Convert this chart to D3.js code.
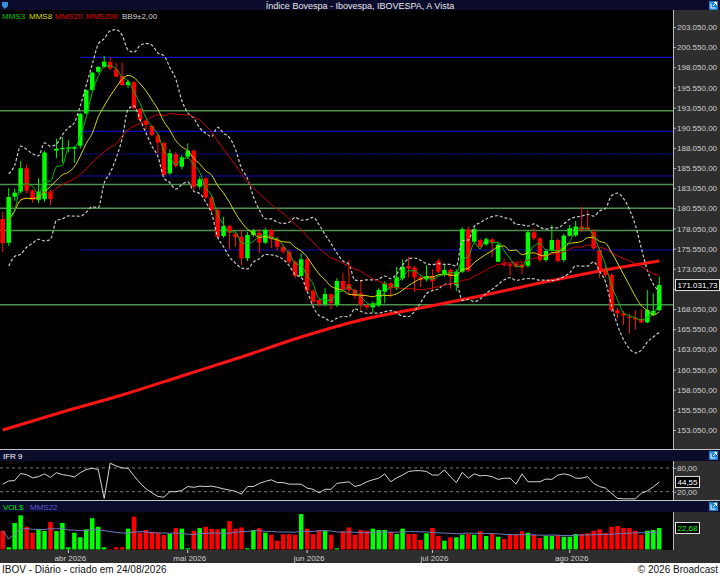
<!DOCTYPE html>
<html>
<head>
<meta charset="utf-8">
<script src="https://cdn.jsdelivr.net/npm/d3@7"></script>
<style>
  body { margin: 0; background: #000; }
  svg { display: block; font-family: "Liberation Sans", Arial, sans-serif; }
</style>
</head>
<body>
<svg id="chart"></svg>
<script>
// ---- data ----
const startDay = "2026-03-17";
const holidays = ["2026-04-03", "2026-04-21", "2026-05-01", "2026-06-04"];

const opens = [
  179230,176270,182000,182630,185530,182750,181600,181690,182630,187700,
  187900,187950,187950,188320,192340,195230,197500,198120,198700,197800,
  196970,195850,196190,192880,191430,190770,189610,188660,184900,187260,
  185720,186960,187700,183230,184280,181920,180340,177120,178360,177370,
  177030,174350,177240,177530,176290,177860,176710,175790,175170,173930,
  172160,174230,170330,169180,168680,169900,168560,171540,171160,170420,
  170000,168560,168270,168520,170210,171250,170630,171870,173400,173190,
  171990,171740,172160,174050,172300,172900,171000,172690,177950,176410,
  176620,176090,176710,173930,173800,173600,173730,173600,173430,177580,
  176830,174140,175390,176620,174140,177160,177200,178300,178200,177650,
  175380,173110,172280,167940,167530,167100,166960,166820,166400,167340,167940
];
const highs = [
  180100,183090,183000,186440,186000,182900,184290,187700,182800,189200,
  189400,189000,188300,192400,195300,197500,198200,199450,199300,198600,
  198620,196500,196300,193000,191600,190900,189800,188800,187880,187580,
  187200,188620,187850,184480,184400,182100,180500,179510,178500,177700,
  177900,177600,178000,178000,178100,178000,177000,176000,175400,174100,
  174970,174400,170500,169400,170630,170000,171900,172570,174140,170600,
  171700,168700,169000,170700,171500,171400,173310,174200,174550,173400,
  172300,173500,173000,174300,173500,173100,173000,178200,178300,178200,
  176800,176900,176800,176300,174300,173800,173900,173800,177800,178080,
  177000,175500,178480,176800,177400,178500,179000,180760,180340,178000,
  175600,173400,172500,168200,167800,167400,167900,168000,170420,170000,172070
];
const lows = [
  175130,175900,181500,182400,182400,181230,181200,181400,180980,186800,
  186200,187500,186200,187950,192200,195000,197300,198000,197700,196800,
  195700,195500,192800,191300,190300,189500,187400,184500,184700,185600,
  185400,186700,182830,182900,181700,180100,176830,176900,175470,175790,
  173520,174000,177000,174970,176100,175590,175300,174900,173600,171870,
  172000,170080,168700,168340,168400,168000,168300,170300,169900,169300,
  167940,168000,167600,168300,168770,169500,170400,171600,172000,170210,
  170800,171500,170200,172500,172100,170600,170300,172500,172600,176200,
  175600,175900,174500,173900,173300,172200,173100,172400,173200,176600,
  173900,173900,175200,173800,173900,177000,177000,177600,177700,175400,
  171900,172000,167700,166900,166080,165000,165500,166300,166300,167200,167800
];
const closes = [
  176250,181970,182500,185530,182750,181600,182630,187470,181690,187950,
  188050,188100,188150,192260,195230,197380,198090,198750,197900,196900,
  195850,196260,192960,191510,190890,189650,188700,184690,187380,185800,
  186880,187700,183230,184150,181920,180340,177030,178360,177530,176960,
  174350,177240,177780,176290,177860,176710,175790,175170,173930,172160,
  174230,170330,168970,168680,169920,168800,171540,170510,170420,169680,
  168600,168270,168770,170420,171250,170630,171990,173310,173110,171990,
  171660,172160,171490,172690,172900,172100,172700,177950,172810,177950,
  175790,176710,176300,176050,173520,173400,173310,173200,177580,176830,
  174140,175260,176620,174020,177160,178080,178300,177900,177900,175590,
  172690,172280,167940,167530,167230,166960,166750,166400,167940,167820,171031.73
];
// financial volume, R$ billions
const volumes = [
  19.8,2.3,28,36,24,17.7,21.3,19.5,29,19.5,
  28,2.3,17.7,12.9,21.3,33,24,2.3,0.5,2.3,
  2.3,22,34.6,17.7,20.5,18.6,17.7,15.3,16.6,22.6,
  22,1.3,19.8,22.6,24,21.8,21.3,22,29.9,22,
  23.3,1.3,20.5,22.6,17.7,15.6,9.3,16.2,16.2,15.6,
  37.4,22,16.2,19.8,19.8,15.6,1.3,19.1,23.3,15.6,
  20.6,19.8,22,20.6,20.6,18.5,16.4,22,16.4,16.4,
  10,17.1,22.7,14.2,9.3,12.9,12.9,15.6,16.4,15.6,
  19.2,14.2,16.4,13.5,11.1,15.6,15.6,19.2,17.7,15.6,
  12.1,14.2,14.2,15,13.5,13.5,16.4,16.4,17.1,19.8,
  21.3,17.7,24,24.8,22.7,22.7,19.8,15.6,19.8,20.6,22.68
];
// IFR 9 (RSI)
const ifr = [
  39,47,48,66,63,55,58,65,56,68,
  63,61,57,68,76,79,76,3,92,85,
  80,79,60,42,27,17,8,6,20,20,
  23,33,31,34,33,34,31,27,24,21,
  14,33,33,41,46,50,43,43,39,39,
  39,29,26,17,26,26,41,43,45,33,
  37,45,50,54,65,45,55,62,71,73,
  73,71,62,62,75,58,43,69,54,65,
  60,61,58,51,54,54,39,65,45,45,
  45,52,51,62,65,62,54,54,58,41,
  33,29,16,3,2,2,2,16,22,32,44.55
];
// MMS200 read at every 10th session
const mms200At = [0,10,20,30,40,50,60,70,80,90,100,110];
const mms200 = [153050,155280,157390,159750,162110,164590,166700,168190,169670,171290,172780,174020];

const greenLevels = [192665, 183509, 180556, 177802, 168596];
const blueLevels = [199290, 190110, 184564, 175383];
const blueDotted = [187293];
const levelStart = 13;

const priceTicks = [153050,155550,158050,160550,163050,165550,168050,170550,173050,175550,
  178050,180550,183050,185550,188050,190550,193050,195550,198050,200550,203050];
const ifrTicks = [20, 80];
const monthNames = ["jan","fev","mar","abr","mai","jun","jul","ago","set","out","nov","dez"];

// ---- trading days ----
const dayKey = d3.timeFormat("%Y-%m-%d");
const dates = [];
for (let d = d3.timeParse("%Y-%m-%d")(startDay); dates.length < closes.length; d = d3.timeDay.offset(d, 1)) {
  const wd = d.getDay();
  if (wd > 0 && wd < 6 && !holidays.includes(dayKey(d))) dates.push(d);
}

// ---- indicators ----
function sma(arr, n) {
  return arr.map((_, i) => d3.mean(arr.slice(Math.max(0, i - n + 1), i + 1)));
}
const mms3 = sma(closes, 3);
const mms8 = sma(closes, 8);
const mms20 = sma(closes, 20);
const mms22v = sma(volumes, 22);
const bbUp = [], bbDn = [];
closes.forEach((_, i) => {
  const w = closes.slice(Math.max(0, i - 8), i + 1);
  const m = d3.mean(w);
  const sd = Math.sqrt(d3.mean(w, v => (v - m) ** 2));
  bbUp.push(m + 2 * sd);
  bbDn.push(m - 2 * sd);
});

// ---- layout ----
const width = 720, height = 575;
const plotRight = 673;
const mainTop = 10, mainBottom = 449;
const ifrTop = 461, ifrBottom = 500;
const volTop = 512, volBottom = 550;

const locale = d3.formatLocale({ decimal: ",", thousands: ".", grouping: [3], currency: ["R$", ""] });
const fmt = locale.format(",.2f");

const svg = d3.select("#chart")
  .attr("width", width)
  .attr("height", height)
  .attr("viewBox", `0 0 ${width} ${height}`);

svg.append("rect").attr("width", width).attr("height", height).attr("fill", "#000");

// right strips
[[mainTop, mainBottom], [ifrTop, ifrBottom], [volTop, volBottom]].forEach(([a, b]) => {
  svg.append("rect").attr("x", plotRight).attr("y", a)
    .attr("width", width - plotRight).attr("height", b - a).attr("fill", "#2e2e2e");
  svg.append("line").attr("x1", plotRight + 0.5).attr("x2", plotRight + 0.5)
    .attr("y1", a).attr("y2", b).attr("stroke", "#b8b8b8");
});

// header bars
[[0, 10], [450, 461], [501, 512]].forEach(([a, b]) => {
  svg.append("rect").attr("x", 0).attr("y", a).attr("width", width).attr("height", b - a).attr("fill", "#0b0b2c");
});
[449.5, 500.5].forEach(yy => {
  svg.append("line").attr("x1", 0).attr("x2", width).attr("y1", yy).attr("y2", yy).attr("stroke", "#c4c4c4");
});

// little window icons
function icon(x0, y0) {
  const g = svg.append("g").attr("transform", `translate(${x0},${y0})`);
  g.append("rect").attr("width", 9).attr("height", 9).attr("fill", "#1a86d8");
  g.append("path").attr("d", "M2,2.5 V7 H6.5 M4,5 L7.5,1.5 M5,1.5 H7.5 V4")
    .attr("fill", "none").attr("stroke", "#fff").attr("stroke-width", 1);
}
icon(709, 1);
icon(709, 451);
icon(709, 502);
svg.append("path").attr("d", "M2,2 L8,2 L8,6 L5,9 L2,6 Z").attr("fill", "#3a8fd8");

svg.append("text").attr("x", 360).attr("y", 8.5).attr("text-anchor", "middle")
  .attr("fill", "#e8e8e8").attr("font-size", 9)
  .text("Índice Bovespa - Ibovespa, IBOVESPA, A Vista");

// legend
const legend = [
  ["MMS3", "#00c800", 2], ["MMS8", "#d8d800", 29], ["MMS20", "#e00000", 55],
  ["MMS200", "#e00000", 86], ["BB9±2,00", "#d4d4d4", 122]
];
legend.forEach(([t, c, x0]) => {
  svg.append("text").attr("x", x0).attr("y", 19).attr("fill", c).attr("font-size", 8).text(t);
});

// scales
const x = d3.scaleBand(dates, [-1, 663]).padding(0.25);
const cx = d => x(d) + x.bandwidth() / 2;
const y = d3.scaleLinear([153050, 203050], [430, 27]);
const yI = d3.scaleLinear([0, 100], [499.6, 460]);
const yV = d3.scaleLinear([0, 40], [549.5, 511.6]);

svg.append("defs").append("clipPath").attr("id", "clipMain")
  .append("rect").attr("x", 0).attr("y", mainTop).attr("width", plotRight).attr("height", mainBottom - mainTop);
const main = svg.append("g").attr("clip-path", "url(#clipMain)");

// horizontal levels
main.append("g").selectAll("line").data(greenLevels).join("line")
  .attr("x1", 0).attr("x2", plotRight)
  .attr("y1", d => y(d)).attr("y2", d => y(d))
  .attr("stroke", "#4f8f4f").attr("stroke-width", 1.6);
main.append("g").selectAll("line").data(blueLevels.concat(blueDotted)).join("line")
  .attr("x1", cx(dates[levelStart])).attr("x2", plotRight)
  .attr("y1", d => y(d)).attr("y2", d => y(d))
  .attr("stroke", "#1010b8").attr("stroke-width", 1.2)
  .attr("stroke-dasharray", d => blueDotted.includes(d) ? "2,1" : null);

// candles
const idx = d3.range(closes.length);
const up = i => closes[i] >= opens[i];
const candle = main.append("g").selectAll("g").data(idx).join("g");
candle.append("line")
  .attr("x1", i => cx(dates[i]) ).attr("x2", i => cx(dates[i]))
  .attr("y1", i => y(highs[i])).attr("y2", i => y(lows[i]))
  .attr("stroke", i => up(i) ? "#00ee00" : "#ff1010").attr("stroke-width", 1);
candle.append("rect")
  .attr("x", i => x(dates[i]))
  .attr("width", x.bandwidth())
  .attr("y", i => y(Math.max(opens[i], closes[i])))
  .attr("height", i => Math.max(1, Math.abs(y(opens[i]) - y(closes[i]))))
  .attr("fill", i => up(i) ? "#00ff00" : "#ff0000");

// MMS200
main.append("path")
  .datum(mms200At)
  .attr("fill", "none").attr("stroke", "#ff1414").attr("stroke-width", 3)
  .attr("d", d3.line().x(i => cx(dates[i])).y((i, k) => y(mms200[k])).curve(d3.curveMonotoneX));

// other averages and bands
const series = [
  [bbUp, "#c8c8c8", "3,2", 1.2],
  [bbDn, "#c8c8c8", "3,2", 1.2],
  [mms20, "#c80000", null, 1],
  [mms8, "#d8d800", null, 1],
  [mms3, "#00c000", null, 1]
];
series.forEach(([vals, color, dash, sw]) => {
  main.append("path")
    .datum(idx.slice(1))
    .attr("fill", "none").attr("stroke", color).attr("stroke-width", sw)
    .attr("stroke-dasharray", dash)
    .attr("d", d3.line().x(i => cx(dates[i])).y(i => y(vals[i])).curve(d3.curveMonotoneX));
});

// price axis (the label under the last-price box stays hidden)
const lastY = y(closes[closes.length - 1]);
svg.append("g")
  .attr("transform", `translate(${plotRight},0)`)
  .call(d3.axisRight(y).tickValues(priceTicks).tickSize(3).tickPadding(1).tickFormat(fmt))
  .call(g => g.select(".domain").remove())
  .call(g => g.selectAll(".tick line").attr("stroke", "#b8b8b8"))
  .call(g => g.selectAll(".tick text").attr("fill", "#d0d0d0").attr("font-size", 8)
    .attr("font-family", "Liberation Sans, Arial, sans-serif")
    .filter(d => Math.abs(y(d) - lastY) < 10).remove());

function valueBox(yc, text, color, w) {
  svg.append("rect").attr("x", plotRight + 2.5).attr("y", yc - 5.5)
    .attr("width", w).attr("height", 11).attr("fill", "#000").attr("stroke", "#e0e0e0");
  svg.append("text").attr("x", plotRight + 4.5).attr("y", yc + 3)
    .attr("fill", color).attr("font-size", 8).text(text);
}
valueBox(lastY, fmt(closes[closes.length - 1]), "#ffffff", 44);

// IFR panel
svg.append("text").attr("x", 3).attr("y", 459).attr("fill", "#ffffff").attr("font-size", 8).text("IFR 9");
svg.append("g").selectAll("line").data(ifrTicks).join("line")
  .attr("x1", 0).attr("x2", plotRight)
  .attr("y1", d => yI(d)).attr("y2", d => yI(d))
  .attr("stroke", "#7a7a7a").attr("stroke-dasharray", "3,3");
svg.append("path").datum(idx)
  .attr("fill", "none").attr("stroke", "#d4d4d4").attr("stroke-width", 1)
  .attr("d", d3.line().x(i => cx(dates[i])).y(i => yI(ifr[i])));
svg.append("g")
  .attr("transform", `translate(${plotRight},0)`)
  .call(d3.axisRight(yI).tickValues(ifrTicks).tickSize(3).tickPadding(1).tickFormat(fmt))
  .call(g => g.select(".domain").remove())
  .call(g => g.selectAll(".tick line").attr("stroke", "#b8b8b8"))
  .call(g => g.selectAll(".tick text").attr("fill", "#d0d0d0").attr("font-size", 8)
    .attr("font-family", "Liberation Sans, Arial, sans-serif"));
valueBox(yI(ifr[ifr.length - 1]), fmt(ifr[ifr.length - 1]), "#ffffff", 24);

// volume panel
svg.append("text").attr("x", 3).attr("y", 510).attr("fill", "#00e000").attr("font-size", 8).text("VOL$");
svg.append("text").attr("x", 30).attr("y", 510).attr("fill", "#5a5ad0").attr("font-size", 8).text("MMS22");
svg.append("g").selectAll("rect").data(idx).join("rect")
  .attr("x", i => x(dates[i]))
  .attr("width", x.bandwidth())
  .attr("y", i => yV(volumes[i]))
  .attr("height", i => yV(0) - yV(volumes[i]))
  .attr("fill", i => up(i) ? "#00ff00" : "#ff0000");
svg.append("path").datum(idx)
  .attr("fill", "none").attr("stroke", "#6e7cc0").attr("stroke-width", 1)
  .attr("d", d3.line().x(i => cx(dates[i])).y(i => yV(mms22v[i])));
valueBox(yV(volumes[volumes.length - 1]), fmt(volumes[volumes.length - 1]), "#00ff00", 24);

// time axis strip
svg.append("rect").attr("x", 0).attr("y", 550).attr("width", width).attr("height", 13).attr("fill", "#2e2e2e");
const monthStarts = dates.filter((d, i) => i > 0 && d.getMonth() !== dates[i - 1].getMonth());
const mt = svg.append("g").selectAll("g").data(monthStarts).join("g")
  .attr("transform", d => `translate(${cx(d)},550)`);
mt.append("line").attr("y1", 0).attr("y2", 3).attr("stroke", "#d0d0d0");
mt.append("text").attr("x", 2).attr("y", 10.5).attr("text-anchor", "middle")
  .attr("fill", "#d0d0d0").attr("font-size", 8)
  .text(d => `${monthNames[d.getMonth()]} ${d.getFullYear()}`);

// footer
svg.append("rect").attr("x", 0).attr("y", 563).attr("width", width).attr("height", 12).attr("fill", "#ffffff");
svg.append("text").attr("x", 2).attr("y", 573).attr("fill", "#111").attr("font-size", 10)
  .text("IBOV - Diário - criado em 24/08/2026");
svg.append("text").attr("x", 718).attr("y", 573).attr("text-anchor", "end").attr("fill", "#111").attr("font-size", 10)
  .text("© 2026 Broadcast");
</script>
</body>
</html>
